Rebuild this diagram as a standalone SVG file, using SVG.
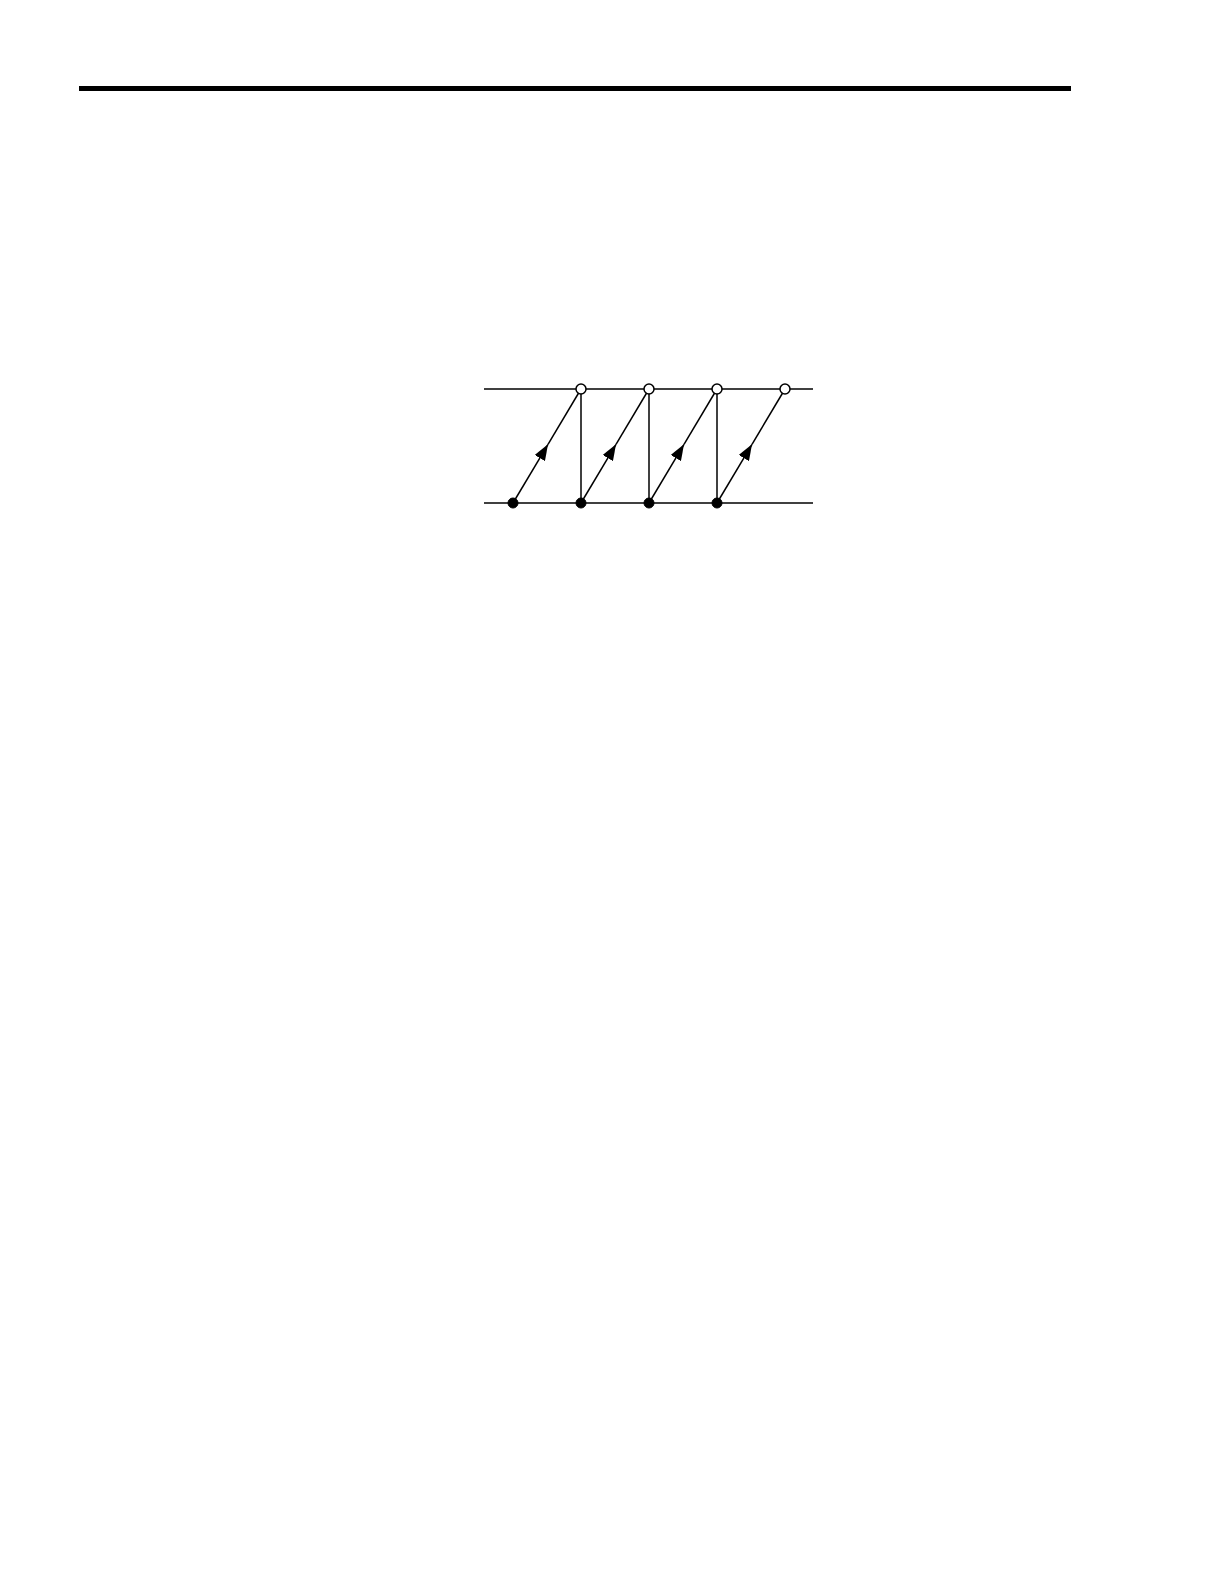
<svg xmlns="http://www.w3.org/2000/svg" width="1224" height="1584" viewBox="0 0 1224 1584">
<style>
.ln{stroke:#000;stroke-width:1.5;fill:none}
.open{fill:#fff;stroke:#000;stroke-width:1.5}
.dot{fill:#000;stroke:#000;stroke-width:1}
</style>
<defs>
<marker id="ah" viewBox="0 0 16 12" refX="16" refY="6" markerWidth="16" markerHeight="12" markerUnits="userSpaceOnUse" orient="auto">
<path d="M0,0 L16,6 L0,12 Z" fill="#000"/>
</marker>
</defs>
<rect width="1224" height="1584" fill="#fff"/>
<rect x="79" y="86" width="992" height="5" fill="#000"/>
<g id="connectors">
<line class="ln" x1="484" y1="389" x2="813" y2="389"/>
<line class="ln" x1="484" y1="503" x2="813" y2="503"/>
<line class="ln" x1="581" y1="389" x2="581" y2="503"/>
<line class="ln" x1="649" y1="389" x2="649" y2="503"/>
<line class="ln" x1="717" y1="389" x2="717" y2="503"/>
<line class="ln" x1="548" y1="444.3" x2="581" y2="389"/>
<line class="ln" x1="616" y1="444.3" x2="649" y2="389"/>
<line class="ln" x1="684" y1="444.3" x2="717" y2="389"/>
<line class="ln" x1="752" y1="444.3" x2="785" y2="389"/>
<line class="ln" x1="513" y1="503" x2="548" y2="444.3" marker-end="url(#ah)"/>
<line class="ln" x1="581" y1="503" x2="616" y2="444.3" marker-end="url(#ah)"/>
<line class="ln" x1="649" y1="503" x2="684" y2="444.3" marker-end="url(#ah)"/>
<line class="ln" x1="717" y1="503" x2="752" y2="444.3" marker-end="url(#ah)"/>
</g>
<g id="u1"><circle class="open" cx="581" cy="389" r="5"/></g>
<g id="u2"><circle class="open" cx="649" cy="389" r="5"/></g>
<g id="u3"><circle class="open" cx="717" cy="389" r="5"/></g>
<g id="u4"><circle class="open" cx="785" cy="389" r="5"/></g>
<g id="l1"><circle class="dot" cx="513" cy="503" r="5"/></g>
<g id="l2"><circle class="dot" cx="581" cy="503" r="5"/></g>
<g id="l3"><circle class="dot" cx="649" cy="503" r="5"/></g>
<g id="l4"><circle class="dot" cx="717" cy="503" r="5"/></g>
</svg>
